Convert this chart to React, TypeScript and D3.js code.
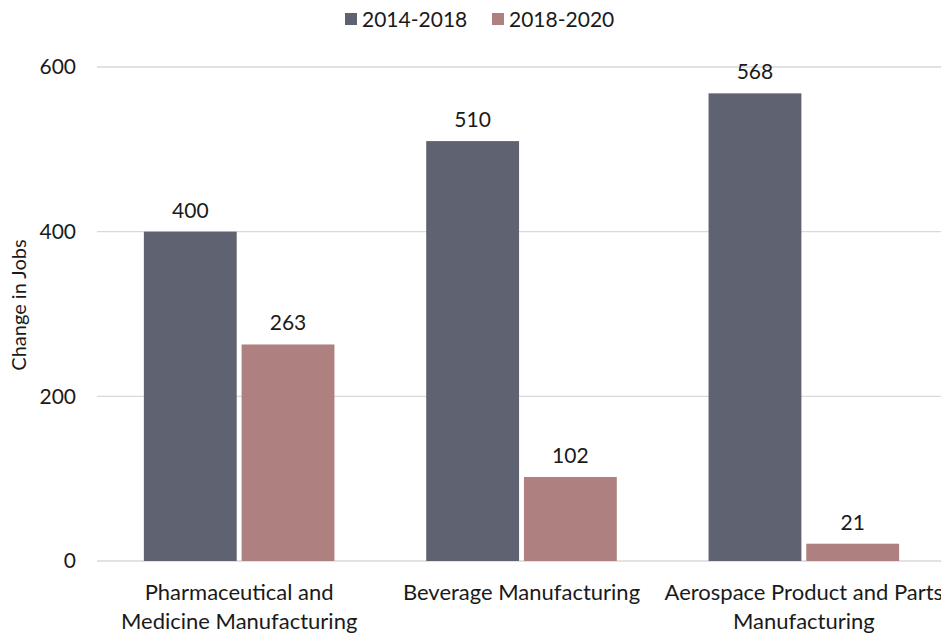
import React, { useRef, useEffect } from 'react';
import * as d3 from 'd3';

const categories = [
  ['Pharmaceutical and', 'Medicine Manufacturing'],
  ['Beverage Manufacturing'],
  ['Aerospace Product and Parts', 'Manufacturing'],
];
const seriesNames = ['2014-2018', '2018-2020'];
const values2014_2018 = [400, 510, 568];
const values2018_2020 = [263, 102, 21];
const yTicks = [0, 200, 400, 600];
const colors = ['#5f6271', '#ae8180'];

const FONT = 'Lato, "Open Sans", sans-serif';

const App = () => {
  const svgRef = useRef<SVGSVGElement | null>(null);

  useEffect(() => {
    const width = 941;
    const height = 635;
    d3.select(svgRef.current).selectAll('*').remove();
    const svg = d3
      .select(svgRef.current)
      .attr('width', width)
      .attr('height', height)
      .style('font-family', FONT);

    const margin = { top: 67, left: 97, bottom: 74 };
    const plotRight = 946;

    const y = d3
      .scaleLinear()
      .domain([0, 600])
      .range([height - margin.bottom, margin.top]);

    const keys = categories.map((c) => c.join(' '));
    const x0 = d3
      .scaleBand()
      .domain(keys)
      .range([margin.left, plotRight])
      .paddingInner(0.325)
      .paddingOuter(0.166);

    const x1 = d3
      .scaleBand()
      .domain(seriesNames)
      .range([0, x0.bandwidth()])
      .paddingInner(0.05);

    // gridlines
    svg
      .append('g')
      .selectAll('line')
      .data(yTicks)
      .join('line')
      .attr('x1', margin.left)
      .attr('x2', width)
      .attr('y1', (d) => y(d))
      .attr('y2', (d) => y(d))
      .attr('stroke', '#d9d9d9')
      .attr('stroke-width', 1.3);

    // y tick labels
    svg
      .append('g')
      .selectAll('text')
      .data(yTicks)
      .join('text')
      .attr('x', 76)
      .attr('y', (d) => y(d))
      .attr('dy', '0.35em')
      .attr('text-anchor', 'end')
      .style('font-size', '21px')
      .attr('fill', '#1a1a1a')
      .text((d) => d);

    // y title
    svg
      .append('text')
      .attr('x', 0)
      .attr('y', 0)
      .attr('transform', 'translate(26,305) rotate(-90)')
      .attr('text-anchor', 'middle')
      .attr('font-size', 20)
      .style('font-size', '20px')
      .attr('fill', '#1a1a1a')
      .text('Change in Jobs');

    const series = [values2014_2018, values2018_2020];

    series.forEach((vals, si) => {
      const g = svg.append('g');
      g.selectAll('rect')
        .data(vals)
        .join('rect')
        .attr('x', (d, i) => (x0(keys[i]) as number) + (x1(seriesNames[si]) as number))
        .attr('y', (d) => y(d))
        .attr('width', x1.bandwidth())
        .attr('height', (d) => y(0) - y(d))
        .attr('fill', colors[si]);

      g.selectAll('text')
        .data(vals)
        .join('text')
        .attr('x', (d, i) => (x0(keys[i]) as number) + (x1(seriesNames[si]) as number) + x1.bandwidth() / 2)
        .attr('y', (d) => y(d) - 14)
        .attr('text-anchor', 'middle')
        .style('font-size', '21px')
        .attr('fill', '#1a1a1a')
        .text((d) => d);
    });

    // category labels
    categories.forEach((lines, i) => {
      const cx = (x0(keys[i]) as number) + x0.bandwidth() / 2;
      lines.forEach((line, li) => {
        svg
          .append('text')
          .attr('x', cx)
          .attr('y', 600 + li * 29)
          .attr('text-anchor', 'middle')
          .style('font-size', '22px')
          .attr('fill', '#1a1a1a')
          .text(line);
      });
    });

    // legend
    const legendX = [345, 492];
    seriesNames.forEach((name, i) => {
      svg
        .append('rect')
        .attr('x', legendX[i])
        .attr('y', 13)
        .attr('width', 12)
        .attr('height', 12)
        .attr('fill', colors[i]);
      svg
        .append('text')
        .attr('x', legendX[i] + 17)
        .attr('y', 27)
        .style('font-size', '21px')
        .attr('fill', '#1a1a1a')
        .text(name);
    });
  }, []);

  return <svg ref={svgRef} style={{ position: 'absolute', left: 0, top: 0 }}></svg>;
};

export default App;
